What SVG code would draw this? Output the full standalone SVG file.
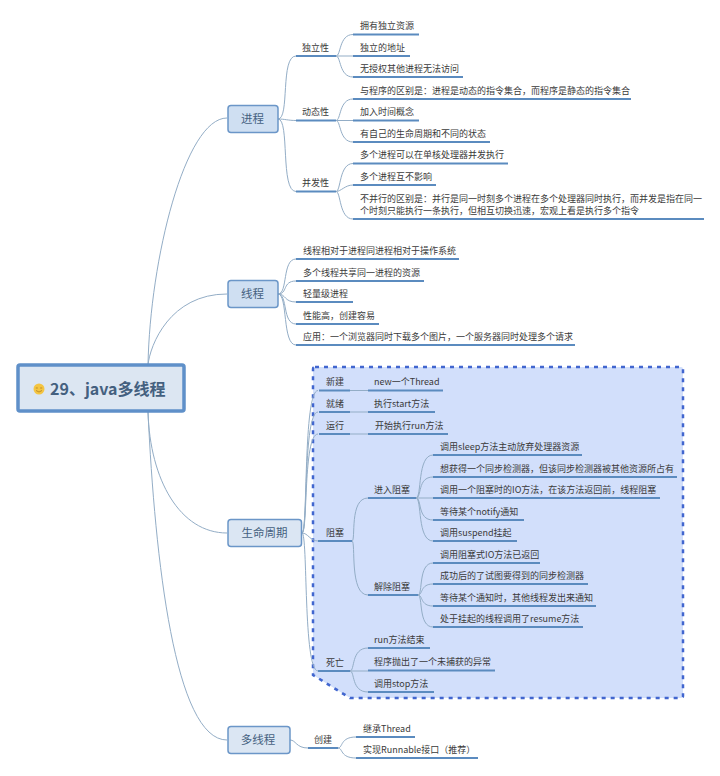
<svg xmlns="http://www.w3.org/2000/svg" width="720" height="776" viewBox="0 0 720 776">
<style>
text{font-family:"Noto Sans CJK SC","Liberation Sans",sans-serif;font-size:9px;fill:#3a3a3a;transform:translateY(-1px)}
.n{font-size:11.5px;fill:#45617f;text-anchor:middle;transform:none}
.u{stroke:#5b8bbf;stroke-width:2;fill:none}
.c{stroke:#93adc6;stroke-width:1;fill:none}
.b{fill:#cfdff2;stroke:#6b96c8;stroke-width:1.500}
.b2{fill:#dbe6f3;stroke:#6b96c8;stroke-width:1.500}
</style>
<rect width="720" height="776" fill="#fff"/>
<path id="boundary" d="M315 367H681Q683 367 683 369V696Q683 698 681 698H350L313 675V369Q313 367 315 367Z" fill="#d2dffb" stroke="#4166cf" stroke-width="2.500" stroke-dasharray="4 5"/>
<g id="connectors" class="c">
<path d="M148 365C150 260 185 118 227 118"/>
<path d="M148 365C150 345 170 294 227 294"/>
<path d="M148 412C150 480 180 533 227 533"/>
<path d="M148 412C155 560 175 740 227 740"/>
<path d="M278 119C290 119 280 56 296 56"/>
<path d="M278 119C285 119 288 120.500 296 120.500"/>
<path d="M278 119C290 119 280 191.500 296 191.500"/>
<path d="M336 56C341 56 339 34.500 353 34.500"/>
<path d="M336 56H353"/>
<path d="M336 56C341 56 339 77 353 77"/>
<path d="M336 120.500C341 120.500 339 99 353 99"/>
<path d="M336 120.500H353"/>
<path d="M336 120.500C341 120.500 339 142 353 142"/>
<path d="M336 191.500C341 191.500 339 163.500 353 163.500"/>
<path d="M336 191.500C341 191.500 345 185 353 185"/>
<path d="M336 191.500C341 191.500 339 219 353 219"/>
<path d="M278 294C288 294 282 259 296 259"/>
<path d="M278 294C288 294 282 281 296 281"/>
<path d="M278 294C286 294 284 302 296 302"/>
<path d="M278 294C288 294 282 324 296 324"/>
<path d="M278 294C288 294 282 345 296 345"/>
<path d="M302 533C308 533 303 390.500 318 390.500"/>
<path d="M302 533C308 533 303 412 318 412"/>
<path d="M302 533C308 533 303 434 318 434"/>
<path d="M302 533C308 533 310 541 318 541"/>
<path d="M302 533C308 533 303 671 318 671"/>
<path d="M350 390.500H368M350 412H368M350 434H368"/>
<path d="M352 541C356 541 349 498 368 498"/>
<path d="M352 541C356 541 349 595 368 595"/>
<path d="M416 498C422 498 417 455 433 455"/>
<path d="M416 498C422 498 417 477 433 477"/>
<path d="M416 498H433"/>
<path d="M416 498C422 498 417 520 433 520"/>
<path d="M416 498C422 498 417 541 433 541"/>
<path d="M418 595C423 595 418 563 433 563"/>
<path d="M418 595C423 595 420 584 433 584"/>
<path d="M418 595C423 595 420 606 433 606"/>
<path d="M418 595C423 595 418 627 433 627"/>
<path d="M350 671C355 671 351 648 368 648"/>
<path d="M350 671H368"/>
<path d="M350 671C355 671 351 692 368 692"/>
<path d="M290 740C296 740 296 748 308 748"/>
<path d="M338 748C343 748 340 737 356 737"/>
<path d="M338 748C343 748 340 758 356 758"/>
</g>
<g id="root"><rect x="18" y="365" width="166" height="46" rx="2" fill="#dce6f2" stroke="#5f90c9" stroke-width="3.500"/><circle cx="39" cy="389" r="5.500" fill="#f4c542"/><path d="M36 390.500Q39 393.500 42 390.500M35.800 388H37.800M40.200 388H42.200" fill="none" stroke="#a8761c" stroke-width=".7"/><text x="50" y="396" style="font-size:16px;font-weight:700;fill:#44607f">29、java多线程</text></g>
<g id="n-jincheng"><rect class="b" x="228" y="105.500" width="50" height="27" rx="3"/><text class="n" x="252.500" y="123">进程</text></g>
<g id="n-xiancheng"><rect class="b" x="228" y="280.500" width="50" height="27" rx="3"/><text class="n" x="252.500" y="298">线程</text></g>
<g id="n-life"><rect class="b2" x="228" y="519.500" width="73.500" height="27" rx="3"/><text class="n" x="264.500" y="537">生命周期</text></g>
<g id="n-multi"><rect class="b2" x="228" y="726.500" width="62" height="27" rx="3"/><text class="n" x="258" y="744">多线程</text></g>
<g id="a1"><path class="u" d="M296 56H336"/><text x="302" y="51.500">独立性</text></g>
<g id="a2"><path class="u" d="M296 120.500H336"/><text x="302" y="116">动态性</text></g>
<g id="a3"><path class="u" d="M296 191.500H336"/><text x="302" y="187">并发性</text></g>
<g id="a1a"><path class="u" d="M353 34.500H419"/><text x="360" y="30">拥有独立资源</text></g>
<g id="a1b"><path class="u" d="M353 56H410"/><text x="360" y="51.500">独立的地址</text></g>
<g id="a1c"><path class="u" d="M353 77H463"/><text x="360" y="72.500">无授权其他进程无法访问</text></g>
<g id="a2a"><path class="u" d="M353 99H631"/><text x="360" y="94.500">与程序的区别是：进程是动态的指令集合，而程序是静态的指令集合</text></g>
<g id="a2b"><path class="u" d="M353 120.500H419"/><text x="360" y="116">加入时间概念</text></g>
<g id="a2c"><path class="u" d="M353 142H490"/><text x="360" y="137.500">有自己的生命周期和不同的状态</text></g>
<g id="a3a"><path class="u" d="M353 163.500H508"/><text x="360" y="159">多个进程可以在单核处理器并发执行</text></g>
<g id="a3b"><path class="u" d="M353 185H436"/><text x="360" y="180.500">多个进程互不影响</text></g>
<g id="a3c"><path class="u" d="M353 219H704"/><text x="360" y="202.500">不并行的区别是：并行是同一时刻多个进程在多个处理器同时执行，而并发是指在同一</text><text x="360" y="215">个时刻只能执行一条执行，但相互切换迅速，宏观上看是执行多个指令</text></g>
<g id="b1"><path class="u" d="M296 259H459"/><text x="303" y="254.500">线程相对于进程同进程相对于操作系统</text></g>
<g id="b2"><path class="u" d="M296 281H424"/><text x="303" y="276.500">多个线程共享同一进程的资源</text></g>
<g id="b3"><path class="u" d="M296 302H353"/><text x="303" y="297.500">轻量级进程</text></g>
<g id="b4"><path class="u" d="M296 324H379"/><text x="303" y="319.500">性能高，创建容易</text></g>
<g id="b5"><path class="u" d="M296 345H575"/><text x="303" y="340.500">应用：一个浏览器同时下载多个图片，一个服务器同时处理多个请求</text></g>
<g id="c1"><path class="u" d="M319 390.500H350"/><text x="326" y="386">新建</text></g>
<g id="c1a"><path class="u" d="M368 390.500H443"/><text x="374" y="386">new一个Thread</text></g>
<g id="c2"><path class="u" d="M319 412H350"/><text x="326" y="407.500">就绪</text></g>
<g id="c2a"><path class="u" d="M368 412H435"/><text x="374" y="407.500">执行start方法</text></g>
<g id="c3"><path class="u" d="M319 434H350"/><text x="326" y="429.500">运行</text></g>
<g id="c3a"><path class="u" d="M368 434H448"/><text x="375" y="429.500">开始执行run方法</text></g>
<g id="c4"><path class="u" d="M318 541H352"/><text x="326" y="536.500">阻塞</text></g>
<g id="c41"><path class="u" d="M368 498H416"/><text x="374" y="493.500">进入阻塞</text></g>
<g id="c41a"><path class="u" d="M433 455H582"/><text x="440" y="450.500">调用sleep方法主动放弃处理器资源</text></g>
<g id="c41b"><path class="u" d="M433 477H677"/><text x="440" y="472.500">想获得一个同步检测器，但该同步检测器被其他资源所占有</text></g>
<g id="c41c"><path class="u" d="M433 498H660"/><text x="440" y="493.500">调用一个阻塞时的IO方法，在该方法返回前，线程阻塞</text></g>
<g id="c41d"><path class="u" d="M433 520H524"/><text x="440" y="515.500">等待某个notify通知</text></g>
<g id="c41e"><path class="u" d="M433 541H517"/><text x="440" y="536.500">调用suspend挂起</text></g>
<g id="c42"><path class="u" d="M368 595H418"/><text x="374" y="590.500">解除阻塞</text></g>
<g id="c42a"><path class="u" d="M433 563H540"/><text x="440" y="558.500">调用阻塞式IO方法已返回</text></g>
<g id="c42b"><path class="u" d="M433 584H588"/><text x="440" y="579.500">成功后的了试图要得到的同步检测器</text></g>
<g id="c42c"><path class="u" d="M433 606H596"/><text x="440" y="601.500">等待某个通知时，其他线程发出来通知</text></g>
<g id="c42d"><path class="u" d="M433 627H583"/><text x="440" y="622.500">处于挂起的线程调用了resume方法</text></g>
<g id="c5"><path class="u" d="M318 671H350"/><text x="326" y="666.500">死亡</text></g>
<g id="c5a"><path class="u" d="M368 648H430"/><text x="374" y="643.500">run方法结束</text></g>
<g id="c5b"><path class="u" d="M368 670.500H495"/><text x="374" y="666">程序抛出了一个未捕获的异常</text></g>
<g id="c5c"><path class="u" d="M368 692H434"/><text x="374" y="687.500">调用stop方法</text></g>
<g id="d1"><path class="u" d="M308 748H338"/><text x="314" y="743.500">创建</text></g>
<g id="d1a"><path class="u" d="M356 737H415"/><text x="363" y="732.500">继承Thread</text></g>
<g id="d1b"><path class="u" d="M356 758H478"/><text x="363" y="753.500">实现Runnable接口（推荐）</text></g>
</svg>
